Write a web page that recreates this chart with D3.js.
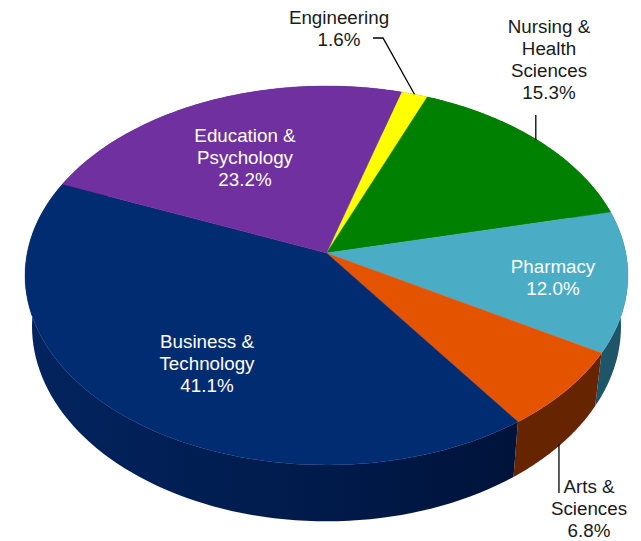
<!DOCTYPE html>
<html>
<head>
<meta charset="utf-8">
<script src="https://cdn.jsdelivr.net/npm/d3@7"></script>
<style>
  html, body { margin: 0; padding: 0; background: #fff; }
  svg { display: block; }
  text { font-family: "Liberation Sans", Arial, sans-serif; font-size: 18.8px; text-anchor: middle; }
</style>
</head>
<body>
<div id="chart"></div>
<script>
// chart values
const categories = ["Engineering", "Nursing & Health Sciences", "Pharmacy", "Arts & Sciences", "Business & Technology", "Education & Psychology"];
const shares = [1.6, 15.3, 12.0, 6.8, 41.1, 23.2];
const labelLines = [["Engineering"], ["Nursing &", "Health", "Sciences"], ["Pharmacy"], ["Arts &", "Sciences"], ["Business &", "Technology"], ["Education &", "Psychology"]];
const topColors = ["#ffff00", "#008000", "#4bacc6", "#e35300", "#012c72", "#7030a0"];
const wallColors = ["#7f7f00", "#004000", "#1f5568", "#662500", "#001a4a", "#381850"];

const width = 641;
const height = 541;

// pie is tilted with perspective, so its centre is above the middle of the ellipse
const apex = { x: 326.5, y: 253 };
const tilt = { a: 299.3, b: 186.8, k: -0.1187 };
const wall = { sx: 0.977, sy: 1.03, dy: 50 };

// label centre x, first baseline y
const labelPos = [[339, 24], [549, 33], [553, 273], [589, 493], [207, 348], [245, 142]];
const lineGap = 22;

const svg = d3.select("#chart").append("svg").attr("width", width).attr("height", height);

const fillScale = d3.scaleOrdinal().domain(categories).range(topColors);
const wallScale = d3.scaleOrdinal().domain(categories).range(wallColors);

// angle on the disc -> point on the top face
function rim(angle) {
  const u = Math.sin(angle);
  const v = -Math.cos(angle);
  const w = 1 + tilt.k * v;
  return [apex.x + (tilt.a * u) / w, apex.y + (tilt.b * v) / w];
}

// same angle on the lower edge of the side wall
function rimLow(angle) {
  const p = rim(angle);
  return [apex.x + (p[0] - apex.x) * wall.sx, apex.y + wall.dy + (p[1] - apex.y) * wall.sy];
}

const start = 0.045 * 2 * Math.PI;
const pie = d3.pie().sort(null).startAngle(start).endAngle(start + 2 * Math.PI).value((d) => d.value);
const slices = pie(categories.map((name, i) => ({ name: name, value: shares[i], lines: labelLines[i], pos: labelPos[i] })));

const line = d3.line().curve(d3.curveLinearClosed);

function sweep(d) {
  return d3.range(0, 81).map((i) => d.startAngle + ((d.endAngle - d.startAngle) * i) / 80);
}

// business wall gets darker to the right
const defs = svg.append("defs");
const grad = defs.append("linearGradient").attr("id", "blueWall").attr("gradientUnits", "userSpaceOnUse")
  .attr("x1", 30).attr("x2", 520).attr("y1", 0).attr("y2", 0);
grad.append("stop").attr("offset", 0).attr("stop-color", "#03245f");
grad.append("stop").attr("offset", 0.6).attr("stop-color", "#001a4a");
grad.append("stop").attr("offset", 1).attr("stop-color", "#00133a");

// side walls first
svg.append("g").selectAll("path").data(slices).join("path")
  .attr("fill", (d) => (d.data.name === "Business & Technology" ? "url(#blueWall)" : wallScale(d.data.name)))
  .attr("d", (d) => {
    const a = sweep(d);
    return line(a.map(rim).concat(a.slice().reverse().map(rimLow)));
  });

// top face
svg.append("g").selectAll("path").data(slices).join("path")
  .attr("fill", (d) => fillScale(d.data.name))
  .attr("stroke", (d) => fillScale(d.data.name))
  .attr("stroke-width", 0.4)
  .attr("d", (d) => line([[apex.x, apex.y]].concat(sweep(d).map(rim))));

// leader lines end on the middle of their slice
const mid = (d) => (d.startAngle + d.endAngle) / 2;
const leader = d3.line();
const nursingEnd = rim(mid(slices[1]));
const artsEnd = rimLow(mid(slices[3]));
const leaders = [
  [[373, 38], [383, 38], rim(mid(slices[0]))],
  [[nursingEnd[0] - 2, 115], [nursingEnd[0] - 2, nursingEnd[1]]],
  [[artsEnd[0] - 2, artsEnd[1]], [artsEnd[0] - 2, 493]],
];
svg.append("g").selectAll("path").data(leaders).join("path")
  .attr("fill", "none")
  .attr("stroke", "#000")
  .attr("stroke-width", 1.3)
  .attr("d", leader);

// labels
const fmt = d3.format(".1%");
const inside = ["Pharmacy", "Business & Technology", "Education & Psychology"];
svg.append("g").selectAll("text").data(slices).join("text")
  .attr("fill", (d) => (inside.includes(d.data.name) ? "#fff" : "#1a1a1a"))
  .each(function (d) {
    const t = d3.select(this);
    d.data.lines.concat(fmt(d.data.value / 100)).forEach((s, i) => {
      t.append("tspan").attr("x", d.data.pos[0]).attr("y", d.data.pos[1] + i * lineGap).text(s);
    });
  });
</script>
</body>
</html>
